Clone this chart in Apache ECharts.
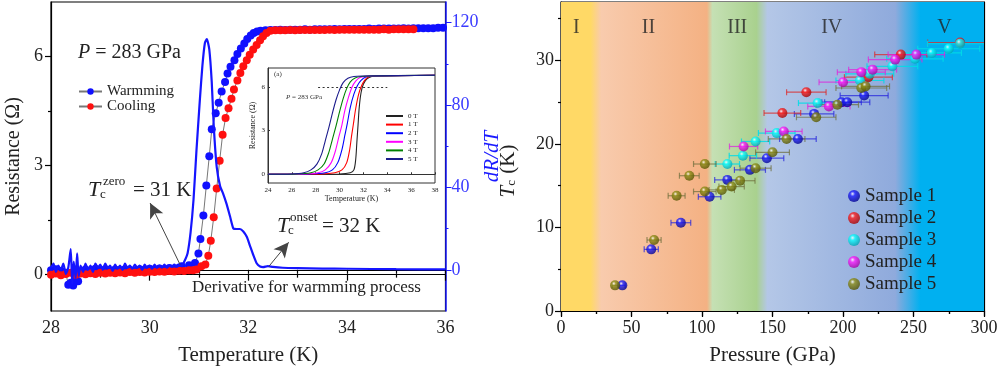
<!DOCTYPE html>
<html><head><meta charset="utf-8">
<script src="https://cdn.jsdelivr.net/npm/echarts@6/dist/echarts.min.js"></script>
<style>html,body{margin:0;padding:0;background:#fff}#c{width:1000px;height:369px}</style>
</head><body><div id="c"></div>
<script>
const F = '"Liberation Serif", "DejaVu Serif", serif';

// ---------- Left panel: R(T) warming / cooling ----------
const warmming = [
 [28.0,0.12],[28.1,0.15],[28.2,0.10],[28.3,0.05],[28.35,-0.28],[28.4,-0.22],[28.45,-0.30],[28.5,-0.15],[28.55,-0.18],
 [28.6,0.08],[28.7,0.14],[28.8,0.11],[28.9,0.16],[29.0,0.12],[29.1,0.15],[29.2,0.10],[29.3,0.14],[29.4,0.12],
 [29.5,0.15],[29.6,0.13],[29.7,0.11],[29.8,0.15],[29.9,0.13],[30.0,0.16],[30.1,0.14],[30.2,0.17],[30.3,0.15],
 [30.4,0.18],[30.5,0.17],[30.6,0.20],[30.65,0.23],[30.8,0.26],[30.92,0.32],[30.99,0.58],[31.03,0.98],[31.09,1.63],
 [31.15,2.45],[31.21,3.26],[31.26,4.00],[31.34,4.44],[31.40,4.73],[31.46,5.04],[31.53,5.30],[31.58,5.53],
 [31.64,5.72],[31.72,5.90],[31.78,6.07],[31.85,6.22],[31.92,6.36],[31.98,6.48],[32.05,6.58],[32.11,6.65],
 [32.18,6.69],[32.25,6.71],[32.35,6.72],
 [32.45,6.73],[32.55,6.73],[32.65,6.74],[32.75,6.73],[32.85,6.74],[32.95,6.74],[33.05,6.74],[33.15,6.75],
 [33.25,6.74],[33.35,6.75],[33.45,6.75],[33.55,6.75],[33.65,6.75],[33.75,6.76],[33.85,6.75],[33.95,6.76],
 [34.05,6.76],[34.15,6.76],[34.25,6.76],[34.35,6.76],[34.45,6.77],[34.55,6.76],[34.65,6.77],[34.75,6.77],
 [34.85,6.77],[34.95,6.77],[35.05,6.77],[35.15,6.78],[35.25,6.77],[35.35,6.78],[35.45,6.78],[35.55,6.78],
 [35.65,6.78],[35.75,6.78],[35.85,6.79],[35.95,6.79]
];
const cooling = [
 [28.0,0.00],[28.1,0.03],[28.2,-0.02],[28.3,0.02],[28.4,0.05],[28.5,0.00],[28.6,0.03],[28.7,0.01],[28.8,0.04],
 [28.9,0.02],[29.0,0.05],[29.1,0.03],[29.2,0.05],[29.3,0.04],[29.4,0.06],[29.5,0.04],[29.6,0.07],[29.7,0.05],
 [29.8,0.07],[29.9,0.06],[30.0,0.08],[30.1,0.07],[30.2,0.09],[30.3,0.08],[30.4,0.10],[30.5,0.09],[30.6,0.11],
 [30.7,0.10],[30.8,0.12],[30.88,0.12],[30.95,0.14],[31.05,0.23],[31.13,0.28],[31.19,0.52],[31.24,0.93],
 [31.30,1.58],[31.36,2.37],[31.42,3.13],[31.48,3.85],[31.54,4.31],[31.60,4.58],[31.66,4.84],[31.71,5.09],
 [31.78,5.34],[31.84,5.55],[31.90,5.73],[31.97,5.90],[32.03,6.05],[32.10,6.19],[32.17,6.32],[32.24,6.45],
 [32.30,6.56],[32.37,6.65],[32.45,6.71],[32.55,6.72],
 [32.65,6.72],[32.75,6.72],[32.85,6.73],[32.95,6.72],[33.05,6.73],[33.15,6.73],[33.25,6.73],[33.35,6.73],
 [33.45,6.73],[33.55,6.73],[33.65,6.74],[33.75,6.73],[33.85,6.74],[33.95,6.74],[34.05,6.74],[34.15,6.74],
 [34.25,6.74],[34.35,6.74],[34.45,6.74],[34.55,6.74],[34.65,6.74],[34.75,6.75],[34.85,6.74],[34.95,6.75],
 [35.05,6.75],[35.15,6.75],[35.25,6.75],[35.35,6.75]
];
const dRdT = [
 [28.00,1],[28.05,3],[28.10,-1],[28.15,2],[28.20,0],[28.25,3],[28.30,-2],[28.35,1],[28.40,10],[28.43,-7],
 [28.46,4],[28.50,-4],[28.53,8],[28.56,-3],[28.60,2],[28.65,-1],[28.70,3],[28.75,0],[28.80,2],[28.85,-1],
 [28.90,3],[28.95,1],[29.00,2.5],[29.05,0],[29.10,3],[29.15,1],[29.20,2],[29.25,-0.5],[29.30,2.5],[29.35,0.5],
 [29.40,2],[29.45,0],[29.50,3],[29.55,1],[29.60,2],[29.65,0.5],[29.70,2.5],[29.75,1],[29.80,2],[29.85,0],
 [29.90,2.5],[29.95,1],[30.00,2],[30.05,0.5],[30.10,2.5],[30.15,1],[30.20,2],[30.25,1],[30.30,2.5],[30.35,1],
 [30.40,2],[30.45,1.5],[30.50,2.5],[30.55,1.5],[30.60,2],[30.65,2],[30.72,4.9],[30.77,8],[30.83,18],[30.89,34],
 [30.95,58],[31.02,83],[31.07,99],[31.12,110],[31.16,112],[31.21,107],[31.26,91],[31.30,70],[31.36,50],
 [31.43,40.5],[31.49,37],[31.56,32],[31.63,26],[31.70,20],[31.76,19.8],[31.83,19.8],[31.90,18.6],[31.97,16],
 [32.03,12],[32.10,7.3],[32.17,3.2],[32.24,1.6],[32.30,1.3],[32.40,1.8],[32.50,1.4],[32.70,1.0],[33.00,0.8],
 [33.50,0.6],[34.00,0.5],[35.00,0.3],[36.00,0.2]
];

// ---------- Inset: R(T) in magnetic field ----------
const insetNames = ['0 T','1 T','2 T','3 T','4 T','5 T'];
const inset0T = [[24,0],[30,0.02],[30.9,0.1],[31.2,0.3],[31.35,1.0],[31.45,2.2],[31.55,3.4],[31.65,4.6],[31.8,5.6],[32.0,6.2],[32.3,6.55],[32.7,6.72],[33.2,6.76],[38,6.8]];
const inset1T = [[24,0],[28.5,0.02],[29.6,0.1],[30.2,0.3],[30.6,0.8],[30.85,1.7],[31.0,2.6],[31.15,3.4],[31.35,4.5],[31.6,5.5],[31.85,6.1],[32.1,6.45],[32.4,6.68],[33,6.75],[38,6.8]];
const inset2T = [[24,0],[27.5,0.02],[28.8,0.1],[29.4,0.3],[29.85,0.8],[30.2,1.7],[30.45,2.7],[30.65,3.5],[30.9,4.6],[31.2,5.5],[31.5,6.1],[31.8,6.45],[32.2,6.68],[32.8,6.75],[38,6.8]];
const inset3T = [[24,0],[27,0.02],[28.2,0.1],[28.8,0.3],[29.3,0.8],[29.65,1.6],[29.95,2.6],[30.2,3.4],[30.45,4.4],[30.75,5.3],[31.05,6.0],[31.35,6.4],[31.7,6.65],[32.3,6.74],[38,6.8]];
const inset4T = [[24,0],[26.5,0.02],[27.6,0.1],[28.2,0.3],[28.7,0.7],[29.1,1.5],[29.4,2.4],[29.7,3.3],[30.0,4.3],[30.3,5.2],[30.6,5.9],[30.9,6.35],[31.3,6.62],[31.8,6.72],[32.5,6.75],[38,6.8]];
const inset5T = [[24,0],[26,0.02],[27,0.1],[27.6,0.3],[28.1,0.7],[28.5,1.4],[28.8,2.3],[29.1,3.2],[29.4,4.2],[29.7,5.1],[30.0,5.8],[30.3,6.3],[30.7,6.6],[31.2,6.72],[32,6.75],[38,6.8]];
const insetCurves = [inset0T,inset1T,inset2T,inset3T,inset4T,inset5T];
const insetColors = ['#222222','#ff0000','#0000ff','#ff00ff','#008000','#1c1c8c'];

// ---------- Right panel: Tc vs pressure [P, Tc, P error] ----------
const sample1 = [[43.5,3.07,2],[64,7.38,5],[85,10.57,7],[105.4,13.68,8],[118,15.7,9],[134,16.9,11],[146,18.3,12],[168,20.6,13],[179.5,23.6,14],[199,25.0,14],[203,25.0,16],[215,25.8,17]];
const sample2 = [[157,23.7,13],[174,26.2,14],[218,28.0,17],[241,30.7,18.5],[283,32.15,23]];
const sample3 = [[118,17.6,8.6],[129,18.6,9.7],[138,20.3,10],[153,21.3,13],[182,24.9,13.6],[212,27.6,17],[219,28.4,17],[235,29.3,18],[251,30.2,20],[263,30.9,21],[275,31.4,22],[283,32.0,23]];
const sample4 = [[129.5,19.7,10],[158,21.5,13],[190,24.5,15],[200,27.4,17],[213,28.6,17],[221,28.9,17],[237,30.1,19],[252,30.7,20]];
const sample5 = [[38.3,3.07,2],[66,8.5,5],[82,13.8,6],[91,16.2,7],[102,17.6,8],[102,14.3,8],[114,14.5,9],[121,14.9,9],[127,15.6,10.6],[138,17.1,11],[150,19.0,12],[160,20.6,13],[181,23.2,14],[196,24.7,15],[213,26.7,18],[216,26.9,17]];
const sampleNames = ['Sample 1','Sample 2','Sample 3','Sample 4','Sample 5'];
const samples = [sample1,sample2,sample3,sample4,sample5];
const sampleColors = [['#2020ff','#00008b','rgba(40,40,220,0.75)'],['#ff2020','#a00000','rgba(220,40,40,0.75)'],['#10ffff','#00a0b0','rgba(0,220,230,0.85)'],['#ff20ff','#a000a0','rgba(220,40,220,0.75)'],['#8f8f18','#505000','rgba(110,110,60,0.7)']];
const phaseNames = ['I','II','III','IV','V'];
const phaseCenters = [10.8,62,125,192,272];

const chart = echarts.init(document.getElementById('c'), null, {renderer:'canvas'});

function ball(c, dark){
  return new echarts.graphic.RadialGradient(0.38,0.32,0.72,[{offset:0,color:'#ffffff'},{offset:0.28,color:c},{offset:1,color:dark}]);
}
function errSeries(data, color){
  return {type:'custom', xAxisIndex:3, yAxisIndex:5, data:data, z:3, silent:true, clip:true,
    encode:{x:0,y:1},
    renderItem(params, api){
      const x=api.value(0), y=api.value(1), e=api.value(2);
      const a=api.coord([x-e,y]), b=api.coord([x+e,y]);
      const st={stroke:color, lineWidth:1.2};
      return {type:'group', children:[
        {type:'line', shape:{x1:a[0],y1:a[1],x2:b[0],y2:b[1]}, style:st},
        {type:'line', shape:{x1:a[0],y1:a[1]-3,x2:a[0],y2:a[1]+3}, style:st},
        {type:'line', shape:{x1:b[0],y1:b[1]-3,x2:b[0],y2:b[1]+3}, style:st}]};
    }};
}
const black = {color:'#000', width:1.2};
const blue = '#1a1aff';
const lbl = (sz,extra)=>Object.assign({fontFamily:F,fontSize:sz,color:'#222'},extra||{});

const series = [];
series.push({name:'Warmming', type:'line', xAxisIndex:0, yAxisIndex:0, data:warmming, symbol:'circle', symbolSize:8,
  itemStyle:{color:'#1010ff'}, lineStyle:{color:'#777',width:1}, z:2,
  markLine:{silent:true, label:{show:false}, lineStyle:{color:'#444',width:1,type:'solid'},
    data:[
      [{coord:[30.62,0.27], symbol:'none'},{coord:[30.01,1.97], symbol:'arrow', symbolSize:[11,15]}],
      [{coord:[32.42,0.23], symbol:'none'},{coord:[32.82,0.89], symbol:'arrow', symbolSize:[11,15]}]
    ]}});
series.push({name:'Cooling', type:'line', xAxisIndex:0, yAxisIndex:0, data:cooling, symbol:'circle', symbolSize:8,
  itemStyle:{color:'#ff1010'}, lineStyle:{color:'#777',width:1}, z:3});
series.push({name:'dR/dT', type:'line', xAxisIndex:0, yAxisIndex:1, data:dRdT, symbol:'none', smooth:0.2,
  lineStyle:{color:'#1515ff',width:2.2}, z:4});
insetCurves.forEach((d,i)=>{
  const s = {name:insetNames[i], type:'line', xAxisIndex:2, yAxisIndex:4, data:d, symbol:'none', smooth:0.3,
    lineStyle:{color:insetColors[i],width:1.1}, itemStyle:{color:insetColors[i]}, z:5};
  if(i===0){ s.markLine={silent:true, symbol:['none','none'], label:{show:false},
    lineStyle:{color:'#333',width:1.2,type:[2,2.5]}, data:[[{coord:[28.2,6]},{coord:[34,6]}]]}; }
  series.push(s);
});
series.push({name:'phases', type:'scatter', xAxisIndex:3, yAxisIndex:5, z:1, silent:true,
  symbolSize:1, itemStyle:{color:'rgba(0,0,0,0)'},
  data: phaseNames.map((n,i)=>({name:n, value:[phaseCenters[i],33.9]})),
  label:{show:true, position:'inside', formatter:'{b}', fontFamily:F, fontSize:20, color:'#222'},
  markArea:{silent:true, itemStyle:{opacity:1, color:new echarts.graphic.LinearGradient(0,0,1,0,[
    {offset:0,color:'#FFD966'},{offset:0.07,color:'#FFD966'},{offset:0.095,color:'#F8CBAD'},
    {offset:0.345,color:'#F4B183'},{offset:0.358,color:'#C5E0B4'},{offset:0.462,color:'#A9D18E'},
    {offset:0.488,color:'#B4C7E7'},{offset:0.79,color:'#8FAADC'},{offset:0.85,color:'#00B0F0'},{offset:1,color:'#00B0F0'}])},
    data:[[{xAxis:0,yAxis:0},{xAxis:300,yAxis:37}]]}});
samples.forEach((d,i)=>series.push(errSeries(d, sampleColors[i][2])));
samples.forEach((d,i)=>series.push({name:sampleNames[i], type:'scatter', xAxisIndex:3, yAxisIndex:5, data:d,
  symbol:'circle', symbolSize:10, z:4, itemStyle:{color:ball(sampleColors[i][0],sampleColors[i][1])}}));

const option = {
  animation:false,
  backgroundColor:'#fff',
  grid:[
    {left:51, top:2, width:394.5, height:309, show:true, borderColor:'#000', borderWidth:1.2, outerBoundsMode:'none'},
    {left:268, top:68, width:167, height:115, show:true, borderColor:'#333', borderWidth:1, backgroundColor:'#fff', outerBoundsMode:'none'},
    {left:561, top:2, width:423, height:309, show:true, borderColor:'#000', borderWidth:1.2, outerBoundsMode:'none'}
  ],
  xAxis:[
    {gridIndex:0, type:'value', min:28, max:36, interval:2, position:'bottom',
     axisLine:{lineStyle:black}, axisTick:{length:6,lineStyle:black}, minorTick:{show:true,splitNumber:2,length:3,lineStyle:black},
     axisLabel:lbl(18,{margin:8}), splitLine:{show:false},
     name:'Temperature (K)', nameLocation:'middle', nameGap:34, nameTextStyle:lbl(21)},
    {gridIndex:0, type:'value', min:28, max:36, interval:1, position:'top',
     axisLine:{lineStyle:black}, axisTick:{inside:true,length:4,lineStyle:black}, axisLabel:{show:false}, splitLine:{show:false}},
    {gridIndex:1, type:'value', min:24, max:38, interval:2, position:'bottom',
     axisLine:{lineStyle:{color:'#333',width:1}}, axisTick:{inside:true,length:2,lineStyle:{color:'#333'}},
     axisLabel:lbl(7,{margin:4}), splitLine:{show:false},
     name:'Temperature (K)', nameLocation:'middle', nameGap:12, nameTextStyle:lbl(8)},
    {gridIndex:2, type:'value', min:0, max:300, interval:50, position:'bottom',
     axisLine:{lineStyle:black}, axisTick:{length:6,lineStyle:black}, minorTick:{show:true,splitNumber:2,length:3,lineStyle:black},
     axisLabel:lbl(18,{margin:8}), splitLine:{show:false},
     name:'Pressure (GPa)', nameLocation:'middle', nameGap:34, nameTextStyle:lbl(21)},
    {gridIndex:2, type:'value', min:0, max:300, interval:50, position:'top',
     axisLine:{lineStyle:black}, axisTick:{inside:true,length:5,lineStyle:black}, minorTick:{show:true,splitNumber:2,length:3,lineStyle:black},
     axisLabel:{show:false}, splitLine:{show:false}}
  ],
  yAxis:[
    {gridIndex:0, type:'value', min:-1, max:7.5, position:'left',
     axisLine:{lineStyle:black}, axisTick:{length:6,lineStyle:black,customValues:[0,3,6]},
     axisLabel:lbl(18,{margin:8,customValues:[0,3,6]}), splitLine:{show:false},
     name:'Resistance (Ω)', nameLocation:'middle', nameGap:27, nameRotate:90, nameTextStyle:lbl(20)},
    {gridIndex:0, type:'value', min:-20, max:130, position:'right',
     axisLine:{lineStyle:{color:blue,width:1.5}}, axisTick:{length:6,lineStyle:{color:blue},customValues:[0,40,80,120]},
     axisLabel:lbl(18,{margin:6,color:'#3a3aff',customValues:[0,40,80,120]}), splitLine:{show:false},
     name:'dR/dT', nameLocation:'middle', nameGap:36, nameRotate:90,
     nameTextStyle:lbl(21,{color:blue,fontStyle:'italic'})},
    {gridIndex:0, type:'value', min:-1, max:7.5, position:'left',
     axisLine:{show:false}, axisTick:{length:3,lineStyle:black,customValues:[1.5,4.5]}, axisLabel:{show:false}, splitLine:{show:false}},
    {gridIndex:0, type:'value', min:-20, max:130, position:'right',
     axisLine:{show:false}, axisTick:{length:3,lineStyle:{color:blue},customValues:[20,60,100]}, axisLabel:{show:false}, splitLine:{show:false}},
    {gridIndex:1, type:'value', min:-0.6, max:7.3, position:'left',
     axisLine:{lineStyle:{color:'#333',width:1}}, axisTick:{inside:true,length:2,lineStyle:{color:'#333'},customValues:[0,3,6]},
     axisLabel:lbl(7,{margin:3,customValues:[0,3,6]}), splitLine:{show:false},
     name:'Resistance (Ω)', nameLocation:'middle', nameGap:11, nameRotate:90, nameTextStyle:lbl(8)},
    {gridIndex:2, type:'value', min:0, max:37, position:'left',
     axisLine:{lineStyle:black}, axisTick:{length:6,lineStyle:black,customValues:[0,10,20,30]},
     axisLabel:lbl(18,{margin:7,customValues:[0,10,20,30]}), splitLine:{show:false}},
    {gridIndex:2, type:'value', min:0, max:37, position:'left',
     axisLine:{show:false}, axisTick:{length:3,lineStyle:black,customValues:[5,15,25,35]}, axisLabel:{show:false}, splitLine:{show:false}},
    {gridIndex:2, type:'value', min:0, max:37, position:'right',
     axisLine:{lineStyle:black}, axisTick:{inside:true,length:5,lineStyle:black,customValues:[10,20,30]}, axisLabel:{show:false}, splitLine:{show:false}}
  ],
  legend:[
    {data:['Warmming','Cooling'], left:73, top:79, orient:'vertical', itemWidth:23, itemHeight:8, itemGap:0,
     textStyle:lbl(15,{lineHeight:15}), selectedMode:false},
    {data:insetNames, left:381, top:107, orient:'vertical', itemWidth:17, itemHeight:2, itemGap:0.6, icon:'rect',
     textStyle:lbl(7,{lineHeight:8}), selectedMode:false},
    {data:sampleNames, left:843, top:181, orient:'vertical', itemWidth:12, itemHeight:12, itemGap:2, icon:'circle',
     textStyle:lbl(19,{lineHeight:20}), selectedMode:false}
  ],
  graphic:[
    {type:'text', x:78, y:53, style:{text:'{i|P} = 283 GPa', font:'20px '+F, fill:'#222', verticalAlign:'middle',
      rich:{i:{fontFamily:F,fontSize:20,fontStyle:'italic',fill:'#222'}}}},
    {type:'text', x:88, y:190, style:{text:'T', font:'italic 22px '+F, fill:'#222', verticalAlign:'middle'}},
    {type:'text', x:100, y:195, style:{text:'c', font:'13px '+F, fill:'#222', verticalAlign:'middle'}},
    {type:'text', x:103, y:182, style:{text:'zero', font:'13px '+F, fill:'#222', verticalAlign:'middle'}},
    {type:'text', x:133, y:190, style:{text:'= 31 K', font:'21px '+F, fill:'#222', verticalAlign:'middle'}},
    {type:'text', x:277, y:226, style:{text:'T', font:'italic 22px '+F, fill:'#222', verticalAlign:'middle'}},
    {type:'text', x:288, y:231, style:{text:'c', font:'13px '+F, fill:'#222', verticalAlign:'middle'}},
    {type:'text', x:290, y:218, style:{text:'onset', font:'13px '+F, fill:'#222', verticalAlign:'middle'}},
    {type:'text', x:322, y:226, style:{text:'= 32 K', font:'21px '+F, fill:'#222', verticalAlign:'middle'}},
    {type:'text', x:192, y:288, style:{text:'Derivative for warmming process', font:'17px '+F, fill:'#222', verticalAlign:'middle'}},
    {type:'text', x:274, y:74, style:{text:'(a)', font:'7px '+F, fill:'#333', verticalAlign:'middle'}},
    {type:'text', x:286, y:97, style:{text:'{i|P} = 283 GPa', font:'7px '+F, fill:'#333', verticalAlign:'middle',
      rich:{i:{fontFamily:F,fontSize:7,fontStyle:'italic',fill:'#333'}}}},
    {type:'text', x:508, y:171, rotation:Math.PI/2, style:{text:'{i|T}{s|c} (K)', font:'21px '+F, fill:'#222',
      align:'center', verticalAlign:'middle',
      rich:{i:{fontFamily:F,fontSize:21,fontStyle:'italic',fill:'#222'},s:{fontFamily:F,fontSize:13,fill:'#222',padding:[8,1,0,0]}}}}
  ],
  series:series
};
chart.setOption(option);
</script></body></html>
